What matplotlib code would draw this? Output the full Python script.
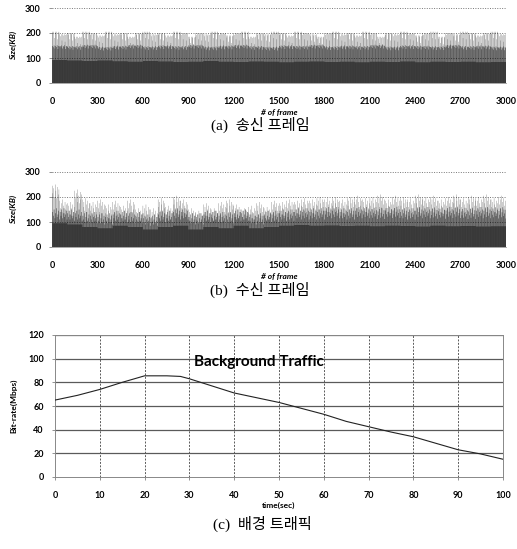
import numpy as np
import matplotlib
matplotlib.use('Agg')
import matplotlib.pyplot as plt

# Données
n_frames = 3000
gop = ['I', 'B', 'P', 'B', 'P']  # motif de trames répété

# (a) trames émises : taille des trames I (par 50 trames), P et B (par 100 trames)
a_i = [205, 195, 200, 185, 205, 200, 190, 205, 195, 200, 185, 200, 205, 195, 200, 190, 205, 200, 185, 200,
       195, 205, 200, 190, 200, 205, 185, 200, 195, 205, 200, 190, 205, 200, 195, 185, 200, 205, 195, 200,
       190, 205, 200, 185, 200, 195, 205, 200, 190, 200, 205, 185, 200, 195, 205, 200, 190, 200, 205, 195]
a_p = [148, 145, 150, 142, 146, 150, 144, 148, 145, 150, 143, 147, 150, 145, 142,
       148, 146, 150, 144, 147, 145, 150, 143, 148, 146, 144, 150, 145, 147, 143]
a_b = [92, 90, 88, 90, 87, 85, 88, 86, 84, 85, 88, 85, 84, 86, 85,
       83, 85, 86, 84, 85, 83, 85, 84, 86, 83, 85, 84, 85, 83, 84]
# écarts des 10 GOP d'un segment de 50 trames
a_off_i = [0, -8, 0, -25, 0, -5, 0, -30, -3, 0]
a_off_p = [0, -5, 2, -10, 0, -4, 3, -12, 0, -2]

# (b) trames reçues
b_i = [245, 185, 175, 225, 190, 175, 185, 165, 180, 160, 185, 150, 165, 150, 190, 160, 200, 185, 150, 140,
       170, 150, 175, 185, 165, 150, 160, 175, 155, 180, 175, 185, 180, 190, 185, 195, 190, 195, 185, 195,
       200, 190, 195, 205, 185, 200, 195, 190, 205, 195, 200, 185, 195, 205, 190, 200, 195, 205, 190, 200]
b_p = [140, 135, 125, 120, 130, 125, 115, 130, 140, 120, 130, 125, 135, 120, 130,
       135, 140, 140, 145, 140, 145, 142, 146, 140, 145, 143, 146, 142, 145, 144]
b_b = [95, 90, 80, 75, 85, 80, 70, 80, 85, 70, 80, 75, 85, 75, 80,
       85, 88, 85, 86, 84, 85, 83, 85, 84, 82, 85, 83, 84, 82, 83]
b_off_i = [0, -30, -10, -45, 5, -20, -50, -5, -35, -15]
b_off_p = [0, -15, 10, -25, -5, 15, -20, -10, 5, -30]

# (c) trafic de fond
temps = [0, 5, 10, 15, 20, 25, 28, 30, 35, 40, 45, 50, 55, 60, 65, 70, 75, 80, 85, 90, 95, 100]
debit = [65, 69, 74, 80, 85.5, 85.5, 85, 83, 77, 71, 67, 63, 58, 53, 47, 42.5, 38, 34, 28.5, 23, 19.5, 15]

TICK_FONT = 'Lato'
HANGUL = ['Liberation Serif', 'Noto Sans CJK KR']


# Construit la taille de chaque trame à partir des niveaux par segment
def tailles_trames(niv_i, niv_p, niv_b, off_i, off_p):
    idx = np.arange(n_frames)
    types = np.array(gop)[idx % len(gop)]
    num_gop = (idx // len(gop)) % len(off_i)
    vi = np.repeat(niv_i, n_frames // len(niv_i)) + np.array(off_i)[num_gop]
    vp = np.repeat(niv_p, n_frames // len(niv_p)) + np.array(off_p)[num_gop]
    vb = np.repeat(niv_b, n_frames // len(niv_b))
    vp = np.maximum(vp, vb)
    vi = np.maximum(vi, vp)
    return np.where(types == 'I', vi, np.where(types == 'P', vp, vb))


def panneau_trames(ax, tailles):
    ax.bar(np.arange(1, n_frames + 1), tailles, width=1.3, color='black', linewidth=0, snap=False, zorder=2)
    ax.set_xlim(0, 3000)
    ax.set_ylim(0, 300)
    ax.set_xticks(range(0, 3001, 300))
    ax.set_yticks([0, 100, 200, 300])
    for y in [100, 200, 300]:
        ax.axhline(y, color='#777777', lw=0.7, ls=(0, (1, 1.5)), zorder=1)
    for s in ['top', 'right', 'left']:
        ax.spines[s].set_visible(False)
    ax.spines['bottom'].set_color('#999999')
    ax.spines['bottom'].set_linewidth(0.6)
    ax.tick_params(axis='both', labelsize=6.5, length=2, width=0.5, color='#666666', pad=6)
    ax.tick_params(axis='x', length=0, pad=10)
    for lab in ax.get_xticklabels() + ax.get_yticklabels():
        lab.set_fontfamily(TICK_FONT)
        lab.set_fontweight('bold')
    ax.set_ylabel('Size(KB)', fontsize=6, fontweight='bold', fontstyle='italic', family=TICK_FONT, labelpad=6)
    ax.set_xlabel('# of frame', fontsize=6, fontweight='bold', fontstyle='italic', family=TICK_FONT, labelpad=2)


fig = plt.figure(figsize=(5.17, 5.49), dpi=100)

ax_a = fig.add_axes([52 / 517, 1 - 83 / 549, 454 / 517, 75 / 549])
panneau_trames(ax_a, tailles_trames(a_i, a_p, a_b, a_off_i, a_off_p))

ax_b = fig.add_axes([52 / 517, 1 - 247 / 549, 454 / 517, 75 / 549])
panneau_trames(ax_b, tailles_trames(b_i, b_p, b_b, b_off_i, b_off_p))

ax_c = fig.add_axes([55 / 517, 1 - 477 / 549, 448 / 517, 142 / 549])
ax_c.plot(temps, debit, color='#222222', lw=0.8, zorder=3)
ax_c.set_xlim(0, 100)
ax_c.set_ylim(0, 120)
ax_c.set_xticks(range(0, 101, 10))
ax_c.set_yticks(range(0, 121, 20))
for y in range(20, 121, 20):
    ax_c.axhline(y, color='#5a5a5a', lw=0.9, zorder=1)
for x in range(10, 100, 10):
    ax_c.axvline(x, color='#5a5a5a', lw=0.7, ls=(0, (2, 1.5)), zorder=1)
for s in ax_c.spines.values():
    s.set_color('#888888')
    s.set_linewidth(0.7)
ax_c.tick_params(axis='both', labelsize=6.5, length=2, width=0.5, color='#666666', pad=6)
ax_c.tick_params(axis='x', pad=8)
for lab in ax_c.get_xticklabels() + ax_c.get_yticklabels():
    lab.set_fontfamily(TICK_FONT)
    lab.set_fontweight('bold')
ax_c.set_ylabel('Bit-rate(Mbps)', fontsize=6, fontweight='bold', family=TICK_FONT, labelpad=8)
ax_c.set_xlabel('time(sec)', fontsize=6, fontweight='bold', family=TICK_FONT, labelpad=1)
ax_c.text(31, 97, 'Background Traffic', fontsize=11, fontweight='bold', family=TICK_FONT,
          va='center', ha='left', zorder=4)

# Légendes des sous-figures
fig.text(0.503, 1 - 125 / 549, '(a)  송신 프레임', ha='center', va='center', fontsize=11, family=HANGUL)
fig.text(0.503, 1 - 290 / 549, '(b)  수신 프레임', ha='center', va='center', fontsize=11, family=HANGUL)
fig.text(0.507, 1 - 524 / 549, '(c)  배경 트래픽', ha='center', va='center', fontsize=11, family=HANGUL)

fig.savefig('out.png', dpi=100)
